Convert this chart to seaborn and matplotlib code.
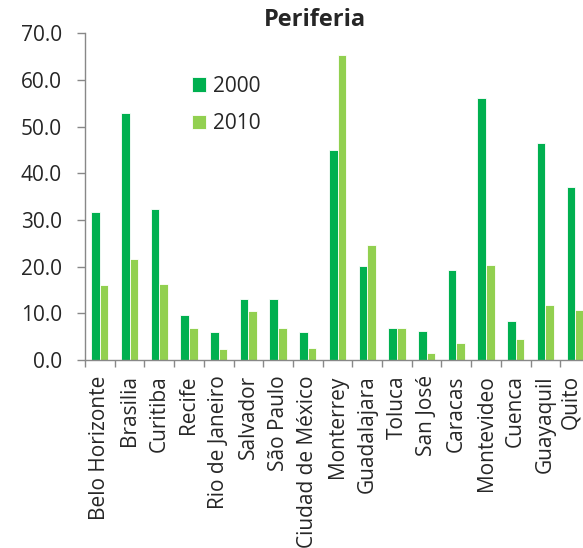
import matplotlib
matplotlib.use("Agg")
import matplotlib.pyplot as plt
import matplotlib.transforms as mtransforms
import seaborn as sns
import pandas as pd
import numpy as np
from matplotlib.ticker import FixedLocator

cities = ["Belo Horizonte", "Brasilia", "Curitiba", "Recife", "Rio de Janeiro",
          "Salvador", "São Paulo", "Ciudad de México", "Monterrey", "Guadalajara",
          "Toluca", "San José", "Caracas", "Montevideo", "Cuenca", "Guayaquil", "Quito"]
v2000 = [31.8, 53.0, 32.4, 9.6, 6.1, 13.0, 13.0, 6.1, 45.1, 20.1,
         6.9, 6.3, 19.3, 56.1, 8.4, 46.5, 37.1]
v2010 = [16.1, 21.7, 16.3, 6.9, 2.4, 10.6, 6.9, 2.5, 65.3, 24.6,
         6.9, 1.4, 3.6, 20.3, 4.6, 11.7, 10.7]
years = ["2000", "2010"]
colors = ["#00B050", "#92D050"]

df = pd.DataFrame({
    "city": cities * 2,
    "value": v2000 + v2010,
    "year": [years[0]] * len(cities) + [years[1]] * len(cities),
})

sns.set_style("white")
plt.rcParams["font.family"] = ["Open Sans", "DejaVu Sans"]

fig = plt.figure(figsize=(5.83, 5.48), dpi=100)
ax = fig.add_axes([85/583, 1 - 360/548, (590 - 85)/583, (360 - 33.3)/548])

sns.barplot(data=df, x="city", y="value", hue="year", palette=colors,
            width=0.58, ax=ax, edgecolor="white", linewidth=0.6, saturation=1)

ax.set_xlim(-0.5, len(cities) - 0.5)
ax.set_ylim(0, 70)
ax.set_yticks(np.arange(0, 71, 10))
ax.set_yticklabels([f"{t:.1f}" for t in np.arange(0, 71, 10)], fontsize=15)
ax.set_xticks(range(len(cities)))
ax.set_xticklabels(cities, rotation=90, fontsize=15, va="top", ha="center")
ax.xaxis.set_minor_locator(FixedLocator(np.arange(-0.5, len(cities), 1.0)))
ax.tick_params(axis="x", which="major", length=0, pad=11)
ax.tick_params(axis="x", which="minor", length=5, color="#888888", width=1, direction="out", bottom=True)
ax.tick_params(axis="y", length=5.5, color="#888888", width=1, direction="out", left=True, pad=11)
ax.set_xlabel("")
ax.set_ylabel("")
for s in ["top", "right"]:
    ax.spines[s].set_visible(False)
for s in ["left", "bottom"]:
    ax.spines[s].set_color("#888888")
    ax.spines[s].set_linewidth(1)

# nudge the last label so it stays inside the picture
last = ax.get_xticklabels()[-1]
last.set_transform(last.get_transform() + mtransforms.ScaledTranslation(-4/100, 0, fig.dpi_scale_trans))

leg = ax.legend(loc="upper left", bbox_to_anchor=(173/583, 1 - 57/548), bbox_transform=fig.transFigure,
                frameon=False, fontsize=15, handlelength=0.7, handleheight=0.7,
                handletextpad=0.3, labelspacing=0.8)

fig.text(315/583, 1 - 20/548, "Periferia", ha="center", va="center", fontsize=17, fontweight="bold")

fig.savefig("out.png", dpi=100)
